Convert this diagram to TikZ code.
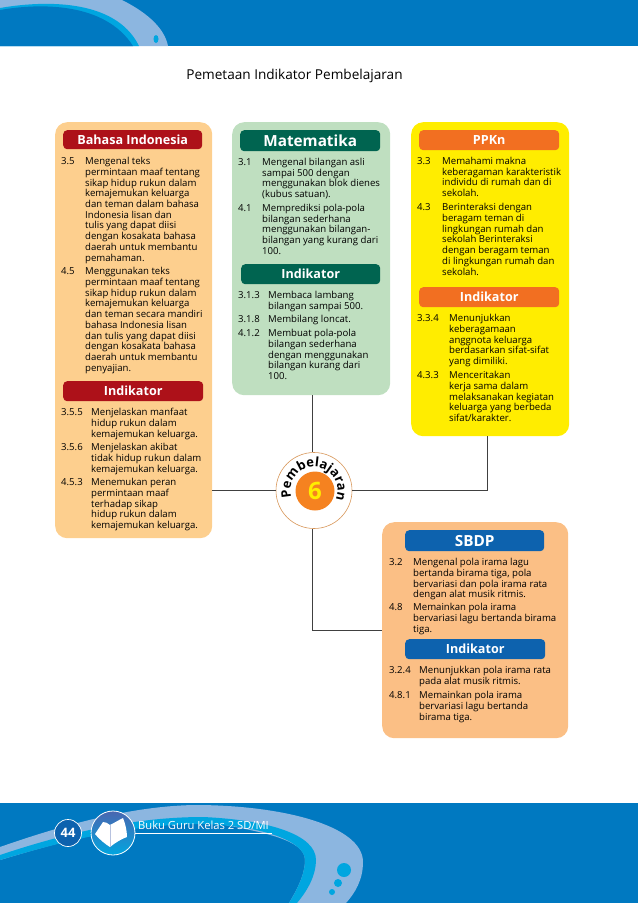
\documentclass[tikz,border=0pt]{standalone}
\usepackage{fontspec}
\setmainfont{Open Sans}
\usetikzlibrary{positioning,shapes.geometric,decorations.text}
\definecolor{bandblue}{HTML}{0079C1}
\definecolor{ringlight}{HTML}{8CB6E0}
\definecolor{ringcyan}{HTML}{00A6E0}
\definecolor{basapanel}{HTML}{FDCF8E}
\definecolor{basahead}{HTML}{AD1119}
\definecolor{matpanel}{HTML}{BFDFC0}
\definecolor{mathead}{HTML}{006450}
\definecolor{ppkpanel}{HTML}{FFED00}
\definecolor{ppkhead}{HTML}{F26F21}
\definecolor{sbdpanel}{HTML}{FBBF85}
\definecolor{sbdhead}{HTML}{0D62AE}
\definecolor{hubring}{HTML}{D8975A}
\definecolor{hubfill}{HTML}{F58220}
\definecolor{iconblue}{HTML}{4A66B0}

\begin{document}
\begin{tikzpicture}[
    x=1pt, y=-1pt,
    panel/.style={rectangle, rounded corners=12pt, inner sep=0pt, anchor=north west},
    headbox/.style={rectangle, rounded corners=4pt, inner sep=0pt, text=white, font=\fontsize{12.6}{12.6}\bfseries\selectfont, anchor=north west},
    headbig/.style={headbox, font=\fontsize{15.3}{15.3}\bfseries\selectfont},
    numtxt/.style={inner sep=0pt, yshift=-1pt, anchor=north west, font=\fontsize{9.6}{10.75}\selectfont},
    bodytxt/.style={inner sep=0pt, yshift=-1pt, anchor=north west, align=left, font=\fontsize{9.6}{10.75}\selectfont},
    link/.style={draw=black!75, line width=0.9pt}
  ]
    \useasboundingbox (0,0) rectangle (638,903);

    % page bands
    \fill[bandblue] (0,0) rectangle (638,46);
    \fill[bandblue] (0,803) rectangle (638,903);
    \fill[ringlight] (0,0) -- (122,0) .. controls (150,14) and (165,30) .. (168,46) -- (0,46) -- cycle;
    \fill[ringcyan] (0,8) .. controls (40,1) and (115,-3) .. (139,46) -- (0,46) -- cycle;
    \fill[bandblue] (0,10) .. controls (40,3) and (105,2) .. (133,46) -- (0,46) -- cycle;
    \fill[ringcyan] (156,39) ellipse (2.5 and 4);

    \fill[ringlight] (0,847) .. controls (60,826) and (130,806) .. (195,805) .. controls (280,805) and (363,825) .. (363,862) .. controls (363,880) and (355,893) .. (346,903) -- (289,903) .. controls (300,885) and (305,872) .. (305,860) .. controls (305,840) and (265,832) .. (203,821) .. controls (130,822) and (60,842) .. (0,860) -- cycle;
    \fill[ringcyan] (0,855) .. controls (60,835) and (130,817) .. (203,817) .. controls (270,820) and (316,835) .. (316,860) .. controls (316,875) and (308,890) .. (297,903) -- (289,903) .. controls (300,885) and (305,872) .. (305,860) .. controls (305,842) and (265,826) .. (203,824) .. controls (130,824) and (60,842) .. (0,860) -- cycle;
    \fill[ringcyan] (344,870) circle (7);
    \fill[ringcyan] (338,883) circle (4);
    \fill[ringcyan] (332,892) circle (3);

    \node at (294.5,76) (title) {\fontsize{13.6}{13.6}\selectfont Pemetaan Indikator Pembelajaran};

    % panels
    \node[panel, fill=basapanel, minimum width=157pt, minimum height=416pt] (basa) at (55,122) {};
    \node[panel, fill=matpanel, minimum width=158pt, minimum height=273pt] (mat) at (232,122) {};
    \node[panel, fill=ppkpanel, minimum width=158pt, minimum height=314pt] (ppk) at (411,122) {};
    \node[panel, fill=sbdpanel, minimum width=186pt, minimum height=216pt] (sbd) at (382,522) {};

    % hub
    \node[circle, draw=hubring, fill=white, line width=0.6pt, minimum size=76pt, inner sep=0pt] (hub) at (314,490.5) {};
    \node[circle, fill=hubfill, minimum size=39pt, inner sep=0pt, text=ppkpanel, font=\fontsize{24}{24}\bfseries\selectfont] (six) at (315,491) {6};
    \path[shift={(hub.center)}, decorate, decoration={text along path, text align={fit to path},
        text={|\fontsize{13}{13}\bfseries\selectfont|Pembelajaran}}]
      (197:23.5pt) arc[start angle=197, end angle=-17, radius=23.5pt];

    \draw[link] ([xshift=1pt]mat.south) -- ([xshift=1pt]mat.south |- hub.north);
    \draw[link] (hub.west) -- (hub.west -| basa.east);
    \draw[link] (hub.east) -| ([xshift=-3pt]ppk.south);
    \draw[link] ([xshift=1pt]mat.south |- hub.south) |- (sbd.west);

    % bahasa indonesia
    \node[headbox, fill=basahead, minimum width=139pt, minimum height=19pt] (basahd) at (63,130) {Bahasa Indonesia};
    \node[numtxt] (n35) at (61,156) {3.5};
    \node[bodytxt] (t35) at (85,156) {Mengenal teks\\permintaan maaf tentang\\sikap hidup rukun dalam\\kemajemukan keluarga\\dan teman dalam bahasa\\Indonesia lisan dan\\tulis yang dapat diisi\\dengan kosakata bahasa\\daerah untuk membantu\\pemahaman.};
    \node[numtxt] (n45) at (61,266) {4.5};
    \node[bodytxt] (t45) at (85,266) {Menggunakan teks\\permintaan maaf tentang\\sikap hidup rukun dalam\\kemajemukan keluarga\\dan teman secara mandiri\\bahasa Indonesia lisan\\dan tulis yang dapat diisi\\dengan kosakata bahasa\\daerah untuk membantu\\penyajian.};
    \node[headbox, fill=basahead, minimum width=140pt, minimum height=20pt] (basaind) at (63,381) {Indikator};
    \node[numtxt] (n355) at (61,407) {3.5.5};
    \node[bodytxt] (t355) at (91,407) {Menjelaskan manfaat\\hidup rukun dalam\\kemajemukan keluarga.};
    \node[numtxt] (n356) at (61,442) {3.5.6};
    \node[bodytxt] (t356) at (91,442) {Menjelaskan akibat\\tidak hidup rukun dalam\\kemajemukan keluarga.};
    \node[numtxt] (n453) at (61,477) {4.5.3};
    \node[bodytxt] (t453) at (91,477) {Menemukan peran\\permintaan maaf\\terhadap sikap\\hidup rukun dalam\\kemajemukan keluarga.};

    % matematika
    \node[headbig, fill=mathead, minimum width=140pt, minimum height=21pt] (mathd) at (240,130) {Matematika};
    \node[numtxt] (n31) at (238,157) {3.1};
    \node[bodytxt] (t31) at (262,157) {Mengenal bilangan asli\\sampai 500 dengan\\menggunakan blok dienes\\(kubus satuan).};
    \node[numtxt] (n41) at (238,203) {4.1};
    \node[bodytxt] (t41) at (262,203) {Memprediksi pola-pola\\bilangan sederhana\\menggunakan bilangan-\\bilangan yang kurang dari\\100.};
    \node[headbox, fill=mathead, minimum width=139pt, minimum height=20pt] (matind) at (241,264) {Indikator};
    \node[numtxt] (n313) at (238,290) {3.1.3};
    \node[bodytxt] (t313) at (268,290) {Membaca lambang\\bilangan sampai 500.};
    \node[numtxt] (n318) at (238,314) {3.1.8};
    \node[bodytxt] (t318) at (268,314) {Membilang loncat.};
    \node[numtxt] (n412) at (238,328) {4.1.2};
    \node[bodytxt] (t412) at (268,328) {Membuat pola-pola\\bilangan sederhana\\dengan menggunakan\\bilangan kurang dari\\100.};

    % ppkn
    \node[headbox, fill=ppkhead, minimum width=140pt, minimum height=20pt] (ppkhd) at (419,130) {PPKn};
    \node[numtxt] (n33) at (417,156) {3.3};
    \node[bodytxt] (t33) at (442,156) {Memahami makna\\keberagaman karakteristik\\individu di rumah dan di\\sekolah.};
    \node[numtxt] (n43) at (417,202) {4.3};
    \node[bodytxt] (t43) at (442,202) {Berinteraksi dengan\\beragam teman di\\lingkungan rumah dan\\sekolah Berinteraksi\\dengan beragam teman\\di lingkungan rumah dan\\sekolah.};
    \node[headbox, fill=ppkhead, minimum width=140pt, minimum height=20pt] (ppkind) at (419,287) {Indikator};
    \node[numtxt] (n334) at (417,313) {3.3.4};
    \node[bodytxt] (t334) at (449,313) {Menunjukkan\\keberagamaan\\anggnota keluarga\\berdasarkan sifat-sifat\\yang dimiliki.};
    \node[numtxt] (n433) at (417,370) {4.3.3};
    \node[bodytxt] (t433) at (449,370) {Menceritakan\\kerja sama dalam\\melaksanakan kegiatan\\keluarga yang berbeda\\sifat/karakter.};

    % sbdp
    \node[headbig, fill=sbdhead, minimum width=139pt, minimum height=21pt] (sbdhd) at (405,530) {SBDP};
    \node[numtxt] (n32) at (389,557) {3.2};
    \node[bodytxt] (t32) at (413,557) {Mengenal pola irama lagu\\bertanda birama tiga, pola\\bervariasi dan pola irama rata\\dengan alat musik ritmis.};
    \node[numtxt] (n48) at (389,602) {4.8};
    \node[bodytxt] (t48) at (413,602) {Memainkan pola irama\\bervariasi lagu bertanda birama\\tiga.};
    \node[headbox, fill=sbdhead, minimum width=140pt, minimum height=20pt] (sbdind) at (405,639) {Indikator};
    \node[numtxt] (n324) at (389,665) {3.2.4};
    \node[bodytxt] (t324) at (419,665) {Menunjukkan pola irama rata\\pada alat musik ritmis.};
    \node[numtxt] (n481) at (389,690) {4.8.1};
    \node[bodytxt] (t481) at (419,690) {Memainkan pola irama\\bervariasi lagu bertanda\\birama tiga.};

    % footer
    \node[circle, draw=white, fill=sbdhead, line width=0.7pt, minimum size=27pt, inner sep=0pt, text=white, font=\fontsize{13}{13}\bfseries\selectfont] (page) at (68,833) {44};
    \node[circle, draw=white, line width=0.8pt, minimum size=44pt, inner sep=0pt, top color=iconblue, bottom color=ringcyan] (bookic) at (113,833) {};
    \fill[white] (95,834) -- (103,822) .. controls (105,822) and (108,823) .. (110,825) .. controls (114,823) and (119,820) .. (123,818) .. controls (125,823) and (127,830) .. (127,837) .. controls (121,839) and (115,843) .. (110,847) .. controls (105,844) and (99,839) .. (95,834) -- cycle;
    \draw[iconblue!40, line width=0.4pt] (110,825) -- (110,847);
    \draw[ringcyan, line width=1pt] (page.east) -- (bookic.west);
    \node[anchor=base west, inner sep=0pt, text=white, font=\fontsize{11.2}{11.2}\selectfont] (foot) at (138,829.5) {Buku Guru Kelas 2 SD/MI};
    \draw[white, line width=0.8pt] (bookic.east |- page.center) -- ([xshift=3pt]foot.base east |- page.center);
  \end{tikzpicture}
\end{document}
